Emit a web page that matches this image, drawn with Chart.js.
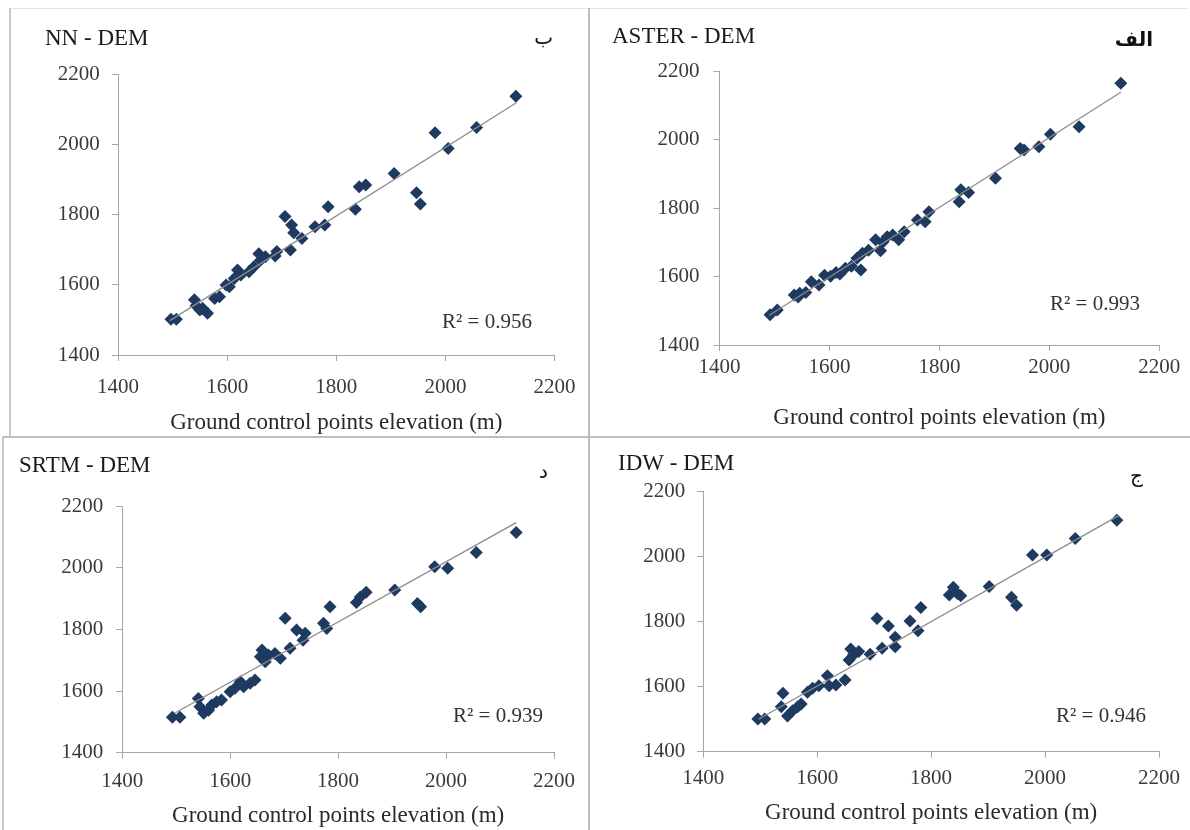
<!DOCTYPE html>
<html><head><meta charset="utf-8">
<script src="https://cdn.jsdelivr.net/npm/chart.js@4.4.1/dist/chart.umd.min.js"></script>
<style>
html,body{margin:0;padding:0;background:#fff;}
#wrap{position:relative;width:1190px;height:830px;overflow:hidden;background:#fff;}
canvas{position:absolute;}
.ln{position:absolute;}
</style></head><body>
<div id="wrap">
<canvas id="cTL"></canvas><canvas id="cTR"></canvas><canvas id="cBL"></canvas><canvas id="cBR"></canvas>
<div class="ln" style="left:10px;top:8px;width:1178px;height:1px;background:#e4e4e4"></div>
<div class="ln" style="left:9px;top:8px;width:2px;height:429px;background:#c8c8c8"></div>
<div class="ln" style="left:588px;top:8px;width:2px;height:822px;background:#bdbdbd"></div>
<div class="ln" style="left:2px;top:436px;width:1188px;height:2px;background:#bdbdbd"></div>
<div class="ln" style="left:2px;top:437px;width:2px;height:393px;background:#c8c8c8"></div>
</div>
<script>
// ---- data ----
const axisTicks = [1400, 1600, 1800, 2000, 2200];
const xAxisTitle = 'Ground control points elevation (m)';

const nnX = [1497,1507,1540,1543,1550,1555,1564,1577,1586,1598,1604,1613,1619,1625,1640,1649,1658,1661,1670,1688,1691,1706,1716,1718,1722,1737,1761,1779,1785,1835,1842,1854,1906,1947,1954,1981,2005,2057,2129];
const nnY = [1502,1502,1557,1540,1528,1533,1519,1561,1566,1599,1594,1618,1642,1628,1637,1651,1688,1670,1680,1682,1695,1794,1699,1770,1748,1732,1765,1770,1822,1815,1879,1884,1917,1862,1830,2033,1988,2048,2137];
const nnTrendX = [1495, 2130];
const nnTrendY = [1498, 2118];

const asX = [1492,1505,1536,1543,1546,1557,1567,1581,1591,1602,1612,1619,1629,1640,1650,1657,1660,1671,1684,1693,1697,1705,1715,1726,1736,1760,1774,1781,1836,1839,1853,1902,1947,1954,1981,2002,2054,2130];
const asY = [1488,1502,1546,1540,1551,1553,1585,1575,1604,1601,1612,1607,1624,1630,1653,1619,1668,1677,1707,1675,1700,1716,1721,1707,1731,1765,1760,1789,1818,1853,1845,1887,1974,1969,1979,2015,2037,2164];
const asTrendX = [1490, 2130];
const asTrendY = [1486, 2138];

const srX = [1493,1507,1541,1544,1551,1560,1566,1575,1584,1600,1609,1619,1625,1637,1646,1656,1659,1665,1671,1683,1693,1702,1711,1723,1735,1739,1773,1779,1785,1834,1841,1852,1905,1947,1953,1979,2003,2056,2130];
const srY = [1515,1515,1576,1549,1528,1538,1555,1565,1571,1598,1609,1630,1614,1625,1636,1711,1733,1695,1717,1722,1706,1836,1739,1798,1765,1787,1820,1803,1873,1887,1905,1920,1928,1884,1873,2003,1998,2049,2114];
const srTrendX = [1497, 2130];
const srTrendY = [1528, 2146];

const idX = [1496,1508,1540,1537,1548,1557,1566,1572,1583,1592,1603,1618,1621,1633,1649,1659,1656,1664,1673,1693,1705,1714,1725,1737,1737,1763,1777,1782,1832,1839,1846,1852,1902,1941,1950,1978,2003,2053,2126];
const idY = [1501,1501,1580,1538,1510,1526,1538,1547,1583,1595,1603,1634,1603,1605,1621,1716,1682,1698,1708,1700,1810,1718,1787,1752,1723,1802,1772,1844,1882,1906,1887,1880,1908,1875,1851,2005,2005,2056,2112];
const idTrendX = [1497, 2130];
const idTrendY = [1500, 2127];

const panelTitles = ['NN - DEM', 'ASTER - DEM', 'SRTM - DEM', 'IDW - DEM'];
const panelLetters = ['ب', 'الف', 'د', 'ج'];
const panelR2 = ['R² = 0.956', 'R² = 0.993', 'R² = 0.939', 'R² = 0.946'];

// ---- layout ----
const SERIF = '"Liberation Serif", "Times New Roman", serif';
const MARK = '#1f3a60';

const textPlugin = {
  id: 'panelText',
  afterDraw(chart, args, opts) {
    const ctx = chart.ctx;
    ctx.save();
    for (const t of (opts.items || [])) {
      ctx.font = t.font;
      ctx.fillStyle = t.color;
      ctx.textAlign = t.align;
      ctx.textBaseline = 'alphabetic';
      ctx.direction = t.rtl ? 'rtl' : 'ltr';
      ctx.fillText(t.text, t.x, t.y);
    }
    ctx.restore();
  }
};

function zip(xs, ys) { return xs.map((x, i) => ({x: x, y: ys[i]})); }

function makeChart(id, L, xs, ys, tx, ty, idx) {
  const cv = document.getElementById(id);
  cv.width = L.w; cv.height = L.h;
  cv.style.left = L.left + 'px'; cv.style.top = L.top + 'px';
  cv.style.width = L.w + 'px'; cv.style.height = L.h + 'px';
  const items = [
    {text: panelTitles[idx], x: L.title[0] - L.left, y: L.title[1] - L.top, font: '23px ' + SERIF, color: '#1a1a1a', align: 'left'},
    {text: panelLetters[idx], x: L.letter[0] - L.left, y: L.letter[1] - L.top, font: (idx === 1 ? 'bold ' : '') + '20px "DejaVu Sans"', color: '#111', align: 'right', rtl: true},
    {text: panelR2[idx], x: L.r2[0] - L.left, y: L.r2[1] - L.top, font: '21px ' + SERIF, color: '#333', align: 'left'}
  ];
  const tickFmt = v => String(v);
  return new Chart(cv, {
    type: 'scatter',
    data: {
      datasets: [
        {type: 'line', data: zip(tx, ty), borderColor: '#8c8c8c', borderWidth: 1.3, pointRadius: 0, fill: false, order: 0, tension: 0},
        {data: zip(xs, ys), backgroundColor: MARK, borderColor: MARK, borderWidth: 0, pointStyle: 'rectRot', pointRadius: 6.5, order: 1}
      ]
    },
    options: {
      responsive: false, animation: false, devicePixelRatio: 1,
      layout: {padding: L.pad},
      plugins: {legend: {display: false}, tooltip: {enabled: false}, title: {display: false}, panelText: {items: items}},
      scales: {
        x: {
          type: 'linear', position: 'bottom', min: axisTicks[0], max: axisTicks[axisTicks.length - 1],
          afterBuildTicks: s => { s.ticks = axisTicks.map(v => ({value: v})); },
          ticks: {color: '#3a3a3a', font: {family: SERIF, size: 21}, padding: L.xpad, maxRotation: 0, autoSkip: false, callback: tickFmt},
          grid: {display: true, drawOnChartArea: false, drawTicks: true, tickLength: 6, color: '#a6a6a6'},
          border: {display: true, color: '#a6a6a6', width: 1},
          title: {display: true, text: xAxisTitle, color: '#2a2a2a', font: {family: SERIF, size: 23}, padding: {top: 0, bottom: 0}},
          afterFit: s => { s.height = L.xh; }
        },
        y: {
          type: 'linear', position: 'left', min: axisTicks[0], max: axisTicks[axisTicks.length - 1],
          afterBuildTicks: s => { s.ticks = axisTicks.map(v => ({value: v})); },
          ticks: {color: '#3a3a3a', font: {family: SERIF, size: 21}, padding: L.ypad, autoSkip: false, callback: tickFmt},
          grid: {display: true, drawOnChartArea: false, drawTicks: true, tickLength: 6, color: '#a6a6a6'},
          border: {display: true, color: '#a6a6a6', width: 1},
          afterFit: s => { s.width = L.yw; }
        }
      }
    },
    plugins: [textPlugin]
  });
}

const LTL = {left: 10, top: 8, w: 579, h: 429, pad: {left: 18, right: 30, top: 66, bottom: 0.2}, yw: 90, xh: 81.8, xpad: 13.4, ypad: 12.2,
  title: [45, 45], letter: [553, 44], r2: [442, 328]};
const LTR = {left: 589, top: 8, w: 599, h: 429, pad: {left: 40.5, right: 28.7, top: 63, bottom: 5.2}, yw: 90, xh: 86.8, xpad: 3.9, ypad: 14,
  title: [612, 43], letter: [1153, 46], r2: [1050, 310]};
const LBL = {left: 3, top: 437, w: 586, h: 393, pad: {left: 29.2, right: 35, top: 69, bottom: 0.5}, yw: 90, xh: 76.8, xpad: 10.4, ypad: 13,
  title: [19, 472], letter: [548, 478], r2: [453, 722]};
const LBR = {left: 589, top: 437, w: 599, h: 393, pad: {left: 24.2, right: 24.9, top: 54.7, bottom: 3.2}, yw: 90, xh: 75.1, xpad: 8, ypad: 12,
  title: [618, 470], letter: [1143, 482], r2: [1056, 722]};

makeChart('cTL', LTL, nnX, nnY, nnTrendX, nnTrendY, 0);
makeChart('cTR', LTR, asX, asY, asTrendX, asTrendY, 1);
makeChart('cBL', LBL, srX, srY, srTrendX, srTrendY, 2);
makeChart('cBR', LBR, idX, idY, idTrendX, idTrendY, 3);
</script>
</body></html>
